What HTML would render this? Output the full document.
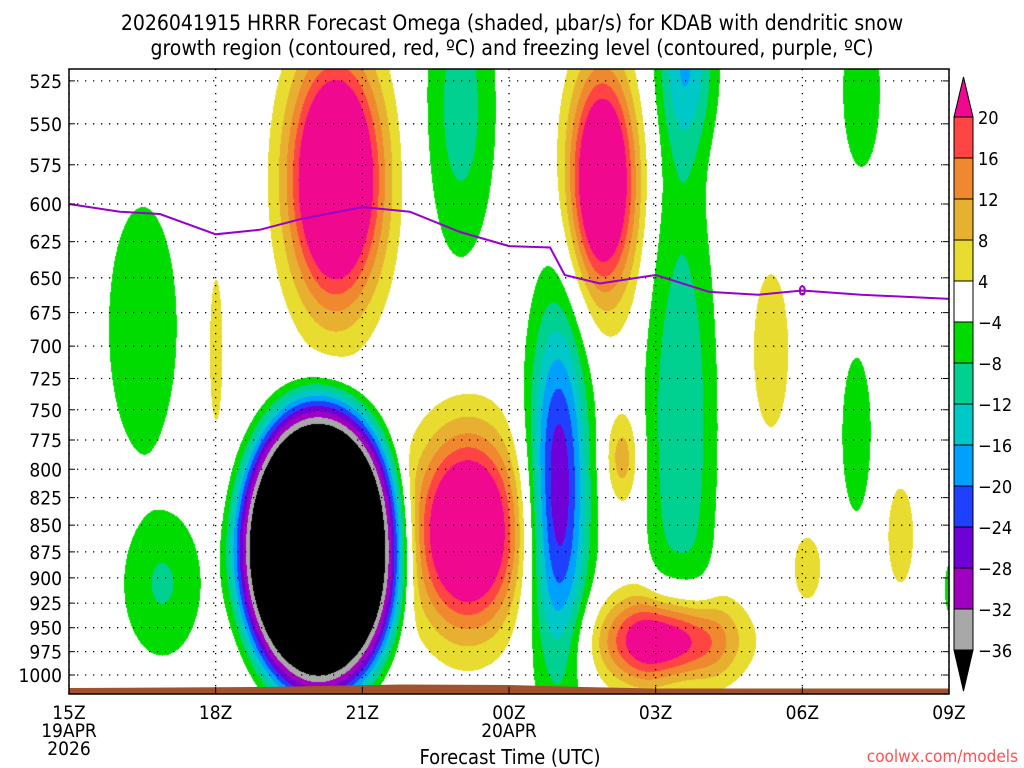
<!DOCTYPE html>
<html><head><meta charset="utf-8"><style>
body{margin:0;background:#fff;width:1024px;height:768px;overflow:hidden;position:relative;font-family:"DejaVu Sans Condensed","Liberation Sans",sans-serif;}
canvas{position:absolute;left:69px;top:69px;}
svg{position:absolute;left:0;top:0;}
text{font-family:"DejaVu Sans Condensed","Liberation Sans",sans-serif;}
</style></head><body>
<canvas id="shade" width="880" height="625"></canvas>
<svg id="chart" width="1024" height="768">
<text x="512" y="30" text-anchor="middle" font-size="21">2026041915 HRRR Forecast Omega (shaded, μbar/s) for KDAB with dendritic snow</text>
<text x="512" y="55" text-anchor="middle" font-size="21">growth region (contoured, red, ºC) and freezing level (contoured, purple, ºC)</text>
<g id="grid"></g>
<g id="marks"></g>
<g id="axes"></g>
<text x="510" y="764" text-anchor="middle" font-size="20">Forecast Time (UTC)</text>
<text x="1018" y="762" text-anchor="end" font-size="17" fill="#ff5050">coolwx.com/models</text>
</svg>
<script>
// ---- data ----
const pressureTicks=[525,550,575,600,625,650,675,700,725,750,775,800,825,850,875,900,925,950,975,1000];
const timeTicks=[0,3,6,9,12,15,18];
const timeLabels=["15Z","18Z","21Z","00Z","03Z","06Z","09Z"];
const levels=[20,16,12,8,4,-4,-8,-12,-16,-20,-24,-28,-32,-36];
const levelColors=["#f0088f","#ff4444","#f08830","#e8b030","#e8dc30","#ffffff","#00dc00","#00d090","#00c8c8","#00a0ff","#2040ff","#7000d8","#a000c0","#a8a8a8","#000000"];
// omega blobs: centre hour, centre hPa, amplitude, spread hours, spread ln(p), shape power
const blobHour=[5.45,5.1,8.15,10.9,12.2,10.0,12.5,11.3,12.6,8.0,1.5,1.9,3.0,14.35,16.1,16.2,17.0,15.1,18.0];
const blobP=[584,872,855,585,963,818,760,790,515,540,685,905,703,703,770,530,859,890,910];
const blobAmp=[40,-50,35,35,30,-28,-9,10,-16,-10,-7,-8.5,6,6,-8,-8,6,6,-6];
const blobSx=[0.92,1.7,1.05,0.67,1.3,0.6,0.8,0.35,0.6,0.75,0.8,0.9,0.2,0.55,0.35,0.45,0.4,0.4,0.15];
const blobSy=[0.13,0.165,0.103,0.12,0.048,0.195,0.3,0.05,0.1,0.17,0.15,0.09,0.12,0.13,0.1,0.1,0.08,0.05,0.04];
const blobPow=[1,3,1,1,1,1,2,1,1,1,2,1,1,1,1,1,1,1,1];
// freezing level
const fzHour=[0,1.04,1.86,3,3.9,4.72,6,6.97,8,9,9.84,10.14,10.86,12,13.1,14.1,15,16.2,18];
const fzP=[600,605,606.5,620,617,610,602,605,618.5,628,629,648,654,648,660,662,659,662,665];

// ---- axes functions ----
const X0=69,X1=949,YT=69,YB=694;
const xOf=h=>X0+h*(X1-X0)/18;
const yOf=p=>675-Math.log(1000/p)*922;
const ns="http://www.w3.org/2000/svg";
function mk(tag,attrs,parent){const e=document.createElementNS(ns,tag);for(const k in attrs)e.setAttribute(k,attrs[k]);parent.appendChild(e);return e;}

// ---- shading ----
const cv=document.getElementById('shade'),ctx=cv.getContext('2d');
const img=ctx.createImageData(880,625);
const rgb=levelColors.map(c=>[parseInt(c.substr(1,2),16),parseInt(c.substr(3,2),16),parseInt(c.substr(5,2),16)]);
const bx=blobHour.map(xOf),by=blobP.map(yOf),bsx=blobSx.map(s=>s*(X1-X0)/18),bsy=blobSy.map(s=>s*922);
for(let j=0;j<625;j++){for(let i=0;i<880;i++){
 const px=i+X0,py=j+YT;let v=0;
 for(let b=0;b<bx.length;b++){const dx=(px-bx[b])/bsx[b],dy=(py-by[b])/bsy[b];const d2=dx*dx+dy*dy;if(d2>30)continue;v+=blobAmp[b]*Math.exp(-Math.pow(d2,blobPow[b]));}
 let k=levels.length;for(let l=0;l<levels.length;l++){if(v>=levels[l]){k=l;break;}}
 const c=rgb[k],o=(j*880+i)*4;img.data[o]=c[0];img.data[o+1]=c[1];img.data[o+2]=c[2];img.data[o+3]=255;}}
ctx.putImageData(img,0,0);

const grid=document.getElementById('grid'),marks=document.getElementById('marks'),axes=document.getElementById('axes');
// ground
const gnd=mk('path',{d:`M${X0} ${YB} L${X0} 688 L${xOf(4)} 687 L${xOf(6.8)} 684.5 L${xOf(9)} 685 L${xOf(10.5)} 687 L${xOf(12)} 688.5 L${X1} 688.5 L${X1} ${YB} Z`,fill:'#a0522d'},marks);


// grid
pressureTicks.forEach(p=>{const y=yOf(p);
 const l=mk('line',{x1:X0,x2:X1,y1:y,y2:y,stroke:'#000','stroke-width':1.3,'stroke-dasharray':'1.3 6.7'},grid);
 
 
 const t=mk('text',{x:62,y:y+7,'text-anchor':'end','font-size':19},axes);t.textContent=p;
 
 
 mk('line',{x1:X0,x2:X0+6,y1:y,y2:y,stroke:'#000'},axes);mk('line',{x1:X1,x2:X1-6,y1:y,y2:y,stroke:'#000'},axes);
});
timeTicks.forEach((h,i)=>{const x=xOf(h);
 const l=mk('line',{x1:x,x2:x,y1:YT,y2:YB,stroke:'#000','stroke-width':1.3,'stroke-dasharray':'1.3 6.7'},grid);
 
 
 const t=mk('text',{x:x,y:719,'text-anchor':'middle','font-size':19},axes);t.textContent=timeLabels[i];
 
 
 mk('line',{x1:x,x2:x,y1:YB,y2:YB-7,stroke:'#000'},axes);
});
[["19APR",X0,737],["2026",X0,755],["20APR",xOf(9),737]].forEach(a=>{const t=mk('text',{x:a[1],y:a[2],'text-anchor':'middle','font-size':19},axes);t.textContent=a[0];
 
 });
// freezing level
let d='';fzHour.forEach((h,i)=>{d+=(i?'L':'M')+xOf(h).toFixed(1)+' '+yOf(fzP[i]).toFixed(1)+' ';});
const fl=mk('path',{d:d,fill:'none',stroke:'#9900cc','stroke-width':2},marks);


const fz0=mk('text',{x:xOf(15),y:yOf(659)+5,'text-anchor':'middle','font-size':13,'font-weight':'bold',fill:'#9900cc'},marks);fz0.textContent='0';


// frame
const fr=mk('rect',{x:X0,y:YT,width:X1-X0,height:YB-YT,fill:'none',stroke:'#000','stroke-width':1.5},axes);


// colorbar
const CX=954,CW=19,CT=117,CS=41;
const cbTop=mk('polygon',{points:`${CX},${CT} ${CX+CW},${CT} ${CX+CW/2},77`,fill:levelColors[0],stroke:'#000'},axes);


for(let k=1;k<levels.length;k++){const r=mk('rect',{x:CX,y:CT+(k-1)*CS,width:CW,height:CS,fill:levelColors[k],stroke:'#000'},axes);
 
 }
const yb=CT+(levels.length-1)*CS;
const cbBot=mk('polygon',{points:`${CX},${yb} ${CX+CW},${yb} ${CX+CW/2},691`,fill:'#000',stroke:'#000'},axes);


levels.forEach((v,k)=>{const t=mk('text',{x:CX+CW+5,y:CT+k*CS+7,'font-size':18},axes);t.textContent=v<0?'\u2212'+(-v):v;
 
 });
</script>
</body></html>
